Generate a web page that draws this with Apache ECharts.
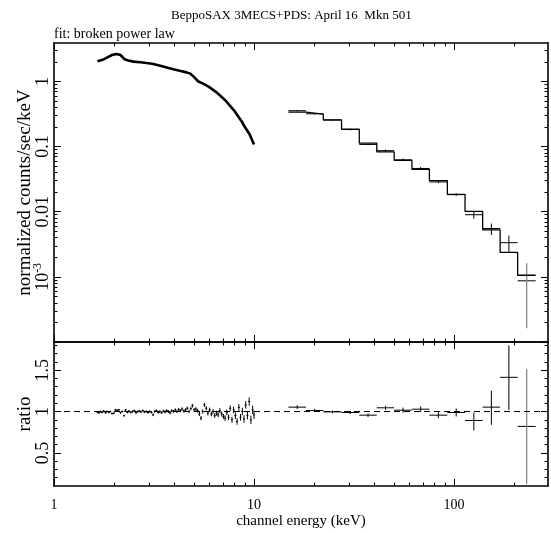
<!DOCTYPE html>
<html>
<head>
<meta charset="utf-8">
<script src="https://cdn.jsdelivr.net/npm/echarts@6/dist/echarts.min.js"></script>
<style>
  html, body { margin: 0; padding: 0; background: #fff; }
  #chart { width: 551px; height: 533px; }
</style>
</head>
<body>
<div id="chart"></div>
<script>
// ---- data ----
// MECS spectrum (keV, normalized counts/sec/keV)
var mecsE    = [1.65, 1.75, 1.85, 1.95, 2.05, 2.15, 2.25, 2.35, 2.5, 2.7, 2.9, 3.1, 3.4, 3.7, 4.0,
                4.3, 4.6, 4.8, 5.0, 5.27, 5.6, 5.9, 6.5, 7.16, 7.5, 8.0, 8.68, 9.0, 9.5, 10.0];
var mecsFlux = [2.05, 2.15, 2.35, 2.55, 2.65, 2.55, 2.2, 2.1, 2.02, 1.98, 1.92, 1.87, 1.75, 1.63, 1.53,
                1.45, 1.38, 1.32, 1.18, 1.0, 0.92, 0.84, 0.68, 0.52, 0.44, 0.35, 0.243, 0.2, 0.155, 0.108];

// MECS ratio points
var mecsRatioE = [1.65,1.68,1.71,1.74,1.77,1.81,1.84,1.88,1.91,1.95,1.99,2.03,2.07,2.11,2.15,2.19,2.24,2.28,2.33,2.37,
                  2.42,2.47,2.52,2.57,2.62,2.67,2.72,2.78,2.83,2.89,2.95,3.01,3.07,3.13,3.19,3.25,3.32,3.38,3.45,3.52,
                  3.59,3.66,3.73,3.81,3.88,3.96,4.04,4.12,4.20,4.29,4.37,4.46,4.55,4.64,4.73,4.83,4.92,5.02,5.12,5.22,
                  5.33,5.43,5.54,5.65,5.77,5.88,6.00,6.12,6.24,6.36,6.49,6.62,6.75,6.89,7.03,7.17,7.31,7.46,7.60,7.76,
                  7.91,8.07,8.23,8.40,8.56,8.74,8.91,9.09,9.27,9.46,9.65,9.84,10.0];
var mecsRatio  = [0.99,0.985,1.0,0.99,1.005,0.985,1.0,0.99,1.0,0.975,0.98,
                  1.02,1.015,1.02,0.985,1.0,0.95,1.02,0.99,1.005,
                  0.99,1.0,1.01,0.985,1.0,1.005,0.995,1.01,0.995,1.0,0.99,1.0,
                  0.99,0.96,1.0,1.01,0.99,1.0,0.985,1.005,0.995,1.01,1.0,0.985,1.01,1.0,
                  1.02,1.0,1.025,1.01,1.03,1.005,1.02,1.04,1.0,1.035,1.07,1.02,1.03,1.01,
                  0.97,0.92,1.0,1.08,1.04,0.98,1.02,0.97,
                  1.0,0.95,0.98,0.96,1.01,0.97,0.94,0.92,0.99,0.93,
                  1.04,0.9,1.02,0.95,0.88,1.05,0.93,1.0,0.91,1.08,0.95,1.12,0.9,1.02,0.96];
var mecsRatioErr = [0.012,0.012,0.012,0.012,0.012,0.012,0.012,0.012,0.012,0.012,0.012,0.012,0.012,0.012,0.012,
                    0.012,0.012,0.012,0.012,0.012,0.014,0.014,0.014,0.014,0.014,0.014,0.014,0.014,0.014,0.014,
                    0.016,0.016,0.016,0.016,0.016,0.016,0.016,0.016,0.016,0.016,0.018,0.018,0.018,0.018,0.018,
                    0.018,0.018,0.018,0.018,0.018,0.02,0.02,0.02,0.02,0.02,0.022,0.022,0.022,0.022,0.022,
                    0.025,0.025,0.025,0.025,0.025,0.028,0.028,0.028,0.028,0.028,0.03,0.03,0.03,0.03,0.03,
                    0.035,0.035,0.035,0.035,0.035,0.04,0.04,0.04,0.04,0.04,0.045,0.045,0.045,0.045,0.05,
                    0.05,0.05,0.05];

// PDS bins
var pdsEdges = [14.85, 18.2, 22.2, 27.4, 33.6, 41.1, 50.2, 61.6, 75.3, 92.6, 113.5, 139, 170, 208, 256];
var pdsModel = [0.338, 0.315, 0.257, 0.185, 0.113, 0.083, 0.0617, 0.0449, 0.030, 0.0185, 0.0101, 0.00525, 0.00237, 0.00106];
var pdsData  = [0.356, 0.319, 0.256, 0.183, 0.108, 0.0867, 0.0627, 0.0462, 0.0287, 0.0183, 0.0090, 0.00553, 0.00335, 0.00087];
var pdsLo    = [0.347, 0.312, 0.250, 0.178, 0.105, 0.083, 0.0598, 0.0440, 0.0274, 0.0174, 0.0078, 0.0044, 0.0024, 0.000162];
var pdsHi    = [0.365, 0.326, 0.262, 0.188, 0.111, 0.090, 0.0656, 0.0484, 0.030, 0.0192, 0.0100, 0.0066, 0.0043, 0.00162];
var pdsRatio   = [1.053, 1.012, 0.996, 0.988, 0.956, 1.045, 1.016, 1.028, 0.956, 0.988, 0.892, 1.053, 1.413, 0.82];
var pdsRatioLo = [1.03, 0.995, 0.98, 0.97, 0.935, 1.02, 0.985, 0.995, 0.92, 0.94, 0.772, 0.84, 1.02, 0.12];
var pdsRatioHi = [1.075, 1.03, 1.012, 1.006, 0.977, 1.07, 1.047, 1.061, 0.992, 1.036, 0.988, 1.252, 1.80, 1.51];

// axis ticks / labels
var xMajor = [1, 10, 100];
var xMinor = [2, 3, 4, 5, 6, 7, 8, 9, 20, 30, 40, 50, 60, 70, 80, 90, 200];
var yMajorTop = [0.0001, 0.001, 0.01, 0.1, 1];
var yMinorTop = [0.0002, 0.0003, 0.0004, 0.0005, 0.0006, 0.0007, 0.0008, 0.0009,
                 0.002, 0.003, 0.004, 0.005, 0.006, 0.007, 0.008, 0.009,
                 0.02, 0.03, 0.04, 0.05, 0.06, 0.07, 0.08, 0.09,
                 0.2, 0.3, 0.4, 0.5, 0.6, 0.7, 0.8, 0.9, 2, 3];
var yLabelsTop = [0.001, 0.01, 0.1, 1];
var yMajorRatio = [0.5, 1, 1.5];
var yMinorRatio = [0.2, 0.3, 0.4, 0.6, 0.7, 0.8, 0.9, 1.1, 1.2, 1.3, 1.4, 1.6, 1.7, 1.8];
var ratioRef = 1;

var X_MIN = 1, X_MAX = 295;
var Y_MIN = 0.0001, Y_MAX = 3.9;
var R_MIN = 0.1, R_MAX = 1.84;

var FONT = '"Liberation Serif", "DejaVu Serif", serif';

var dom = document.getElementById('chart');
var myChart = echarts.init(dom, null, {renderer: 'canvas'});

function tickAxis(grid, pos, type, min, max, ticks, len, withLine) {
    var a = {
        type: type, gridIndex: grid, position: pos, min: min, max: max,
        axisLine: {show: withLine, onZero: false, lineStyle: {color: '#000', width: 1.6}},
        axisTick: {show: true, inside: true, length: len, customValues: ticks,
                   lineStyle: {color: '#000', width: 1}},
        axisLabel: {show: false},
        splitLine: {show: false},
        minorTick: {show: false}
    };
    if (type === 'log') a.logBase = 10;
    return a;
}

// the source image is stretched vertically, so rotated (y) texts come out longer
var yNameStyle = {color: '#000', fontFamily: FONT, fontSize: 19};

// x axes: main grids carry the frame + major ticks, overlay grids the minor ticks
var xAxes = [
    tickAxis(0, 'bottom', 'log', X_MIN, X_MAX, xMajor, 7, true),
    tickAxis(0, 'top', 'log', X_MIN, X_MAX, xMajor, 7, true),
    tickAxis(1, 'bottom', 'log', X_MIN, X_MAX, xMinor, 3.5, false),
    tickAxis(1, 'top', 'log', X_MIN, X_MAX, xMinor, 3.5, false),
    tickAxis(2, 'bottom', 'log', X_MIN, X_MAX, xMajor, 7, true),
    tickAxis(2, 'top', 'log', X_MIN, X_MAX, xMajor, 7, true),
    tickAxis(3, 'bottom', 'log', X_MIN, X_MAX, xMinor, 3.5, false),
    tickAxis(3, 'top', 'log', X_MIN, X_MAX, xMinor, 3.5, false)
];
xAxes[4].axisLabel = {
    show: true, customValues: xMajor, margin: 12,
    color: '#000', fontFamily: FONT, fontSize: 14,
    formatter: function (v) { return String(Math.round(v)); }
};
xAxes[4].name = 'channel energy (keV)';
xAxes[4].nameLocation = 'middle';
xAxes[4].nameGap = 28;
xAxes[4].nameMoveOverlap = false;
xAxes[4].nameTextStyle = {color: '#000', fontFamily: FONT, fontSize: 15};

// y axes
var yAxes = [
    tickAxis(0, 'left', 'log', Y_MIN, Y_MAX, yMajorTop, 7, true),
    tickAxis(0, 'right', 'log', Y_MIN, Y_MAX, yMajorTop, 7, true),
    tickAxis(1, 'left', 'log', Y_MIN, Y_MAX, yMinorTop, 3.5, false),
    tickAxis(1, 'right', 'log', Y_MIN, Y_MAX, yMinorTop, 3.5, false),
    tickAxis(2, 'left', 'value', R_MIN, R_MAX, yMajorRatio, 7, true),
    tickAxis(2, 'right', 'value', R_MIN, R_MAX, yMajorRatio, 7, true),
    tickAxis(3, 'left', 'value', R_MIN, R_MAX, yMinorRatio, 3.5, false),
    tickAxis(3, 'right', 'value', R_MIN, R_MAX, yMinorRatio, 3.5, false)
];
yAxes[0].axisLabel = {
    show: true, customValues: yLabelsTop, rotate: 90, margin: 2,
    color: '#000', fontFamily: FONT, fontSize: 18,
    formatter: function (v) {
        var p = Math.round(Math.log10(v));
        if (p === 0) return '1';
        if (p === -1) return '0.1';
        if (p === -2) return '0.01';
        return '{b|10}{s|' + p + '}';
    },
    rich: {
        b: {fontFamily: FONT, fontSize: 18, color: '#000', lineHeight: 20, verticalAlign: 'bottom'},
        s: {fontFamily: FONT, fontSize: 12, color: '#000', lineHeight: 20, verticalAlign: 'top'}
    }
};
yAxes[0].name = 'normalized counts/sec/keV';
yAxes[0].nameLocation = 'middle';
yAxes[0].nameGap = 19;
yAxes[0].nameMoveOverlap = false;
yAxes[0].nameTextStyle = yNameStyle;

yAxes[4].axisLabel = {
    show: true, customValues: yMajorRatio, rotate: 90, margin: 2,
    color: '#000', fontFamily: FONT, fontSize: 18,
    formatter: function (v) { return String(v); }
};
yAxes[4].name = 'ratio';
yAxes[4].nameLocation = 'middle';
yAxes[4].nameGap = 19;
yAxes[4].nameMoveOverlap = false;
yAxes[4].nameTextStyle = yNameStyle;

// series data
var mecsLine = mecsE.map(function (e, i) { return [e, mecsFlux[i]]; });
var modelSteps = pdsModel.map(function (m, i) { return [pdsEdges[i], m]; });
modelSteps.push([pdsEdges[pdsEdges.length - 1], pdsModel[pdsModel.length - 1]]);
var pdsCross = pdsData.map(function (d, i) {
    return [pdsEdges[i], pdsEdges[i + 1], d, pdsLo[i], pdsHi[i], i === pdsData.length - 1 ? 1 : 0];
});
var pdsRatioCross = pdsRatio.map(function (d, i) {
    return [pdsEdges[i], pdsEdges[i + 1], d, pdsRatioLo[i], pdsRatioHi[i], i === pdsRatio.length - 1 ? 1 : 0];
});
var mecsRatioCross = mecsRatio.map(function (r, i) {
    return [mecsRatioE[i] / 1.012, mecsRatioE[i] * 1.012, r, r - mecsRatioErr[i], r + mecsRatioErr[i], 0];
});

// horizontal bar = bin width, vertical bar = error range
function renderCross(params, api) {
    var lo = api.value(0), hi = api.value(1);
    var mid = Math.sqrt(lo * hi);
    var a = api.coord([lo, api.value(2)]);
    var b = api.coord([hi, api.value(2)]);
    var c = api.coord([mid, api.value(3)]);
    var d = api.coord([mid, api.value(4)]);
    var grey = api.value(5) === 1;
    return {
        type: 'group',
        children: [
            {type: 'line', shape: {x1: a[0], y1: a[1], x2: b[0], y2: b[1]},
             style: {stroke: '#000', lineWidth: 1}},
            {type: 'line', shape: {x1: c[0], y1: c[1], x2: d[0], y2: d[1]},
             style: {stroke: grey ? '#888' : '#000', lineWidth: grey ? 1.3 : 1}}
        ]
    };
}

var option = {
    animation: false,
    backgroundColor: '#fff',
    title: [
        {text: 'BeppoSAX 3MECS+PDS: April 16  Mkn 501', left: 166, top: 4,
         textStyle: {fontFamily: FONT, fontSize: 13, fontWeight: 'normal', color: '#000'}},
        {text: 'fit: broken power law', left: 49, top: 22,
         textStyle: {fontFamily: FONT, fontSize: 14, fontWeight: 'normal', color: '#000'}}
    ],
    grid: [
        {left: 54, top: 43, width: 494, height: 299, outerBoundsMode: 'none'},
        {left: 54, top: 43, width: 494, height: 299, outerBoundsMode: 'none'},
        {left: 54, top: 342, width: 494, height: 144, outerBoundsMode: 'none'},
        {left: 54, top: 342, width: 494, height: 144, outerBoundsMode: 'none'}
    ],
    xAxis: xAxes,
    yAxis: yAxes,
    series: [
        {
            name: 'MECS', type: 'line', xAxisIndex: 0, yAxisIndex: 0,
            data: mecsLine, showSymbol: false, smooth: false,
            lineStyle: {color: '#000', width: 2.6}
        },
        {
            name: 'PDS model', type: 'line', step: 'end', xAxisIndex: 0, yAxisIndex: 0,
            data: modelSteps, showSymbol: false,
            lineStyle: {color: '#000', width: 1.3}
        },
        {
            name: 'PDS data', type: 'custom', xAxisIndex: 0, yAxisIndex: 0,
            data: pdsCross, renderItem: renderCross,
            encode: {x: [0, 1], y: [2, 3, 4]}
        },
        {
            name: 'ref', type: 'line', xAxisIndex: 4, yAxisIndex: 4,
            data: [[X_MIN, ratioRef], [X_MAX, ratioRef]], showSymbol: false,
            lineStyle: {color: '#000', width: 1, type: [6, 4]}
        },
        {
            name: 'MECS ratio', type: 'custom', xAxisIndex: 4, yAxisIndex: 4,
            data: mecsRatioCross, renderItem: renderCross,
            encode: {x: [0, 1], y: [2, 3, 4]}
        },
        {
            name: 'PDS ratio', type: 'custom', xAxisIndex: 4, yAxisIndex: 4,
            data: pdsRatioCross, renderItem: renderCross,
            encode: {x: [0, 1], y: [2, 3, 4]}
        }
    ]
};
myChart.setOption(option);
</script>
</body>
</html>
